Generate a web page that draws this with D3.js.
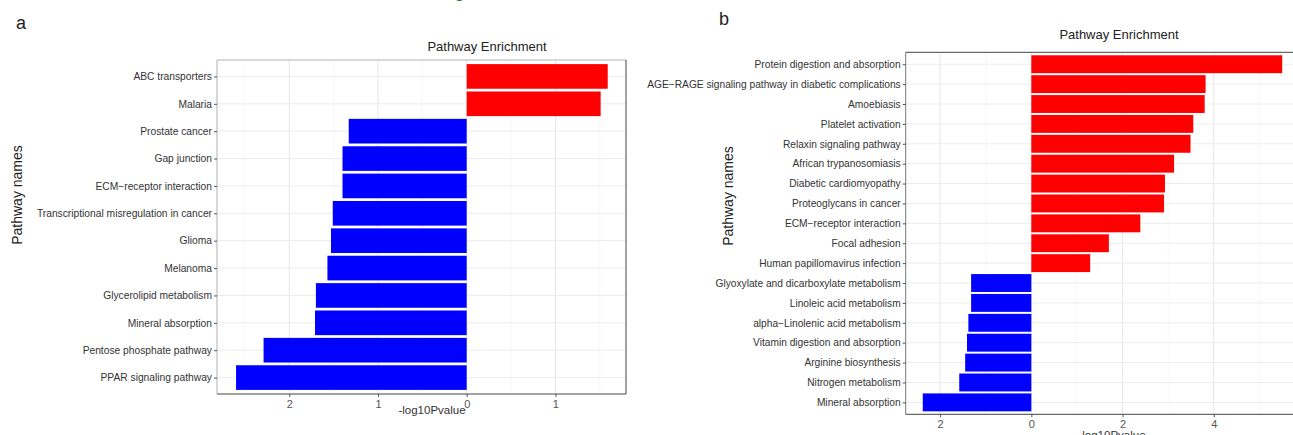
<!DOCTYPE html>
<html><head><meta charset="utf-8">
<script src="https://cdn.jsdelivr.net/npm/d3@7"></script>
<style>body{margin:0;background:#fff}svg{display:block;font-family:"Liberation Sans",Arial,sans-serif}</style>
</head><body><svg id="c" width="1293" height="435"></svg>
<script>
// Panel a data
const catsA = ["ABC transporters","Malaria","Prostate cancer","Gap junction","ECM\u2212receptor interaction","Transcriptional misregulation in cancer","Glioma","Melanoma","Glycerolipid metabolism","Mineral absorption","Pentose phosphate pathway","PPAR signaling pathway"];
const valsA = [1.59,1.51,-1.33,-1.40,-1.40,-1.51,-1.53,-1.57,-1.70,-1.71,-2.29,-2.60];
const ticksA = [-2,-1,0,1];
// Panel b data
const catsB = ["Protein digestion and absorption","AGE\u2212RAGE signaling pathway in diabetic complications","Amoebiasis","Platelet activation","Relaxin signaling pathway","African trypanosomiasis","Diabetic cardiomyopathy","Proteoglycans in cancer","ECM\u2212receptor interaction","Focal adhesion","Human papillomavirus infection","Glyoxylate and dicarboxylate metabolism","Linoleic acid metabolism","alpha\u2212Linolenic acid metabolism","Vitamin digestion and absorption","Arginine biosynthesis","Nitrogen metabolism","Mineral absorption"];
const valsB = [5.50,3.82,3.80,3.55,3.49,3.13,2.93,2.91,2.39,1.70,1.29,-1.32,-1.32,-1.38,-1.41,-1.45,-1.58,-2.38];
const ticksB = [-2,0,2,4];
const minorA = [-2.5,-1.5,-0.5,0.5,1.5];
const minorB = [-1,1,3,5];

const svg = d3.select("#c");

function panel(o){
  const g = svg.append("g");
  const x = d3.scaleLinear().domain(o.xdom).range([o.left,o.right]);
  const y = d3.scalePoint().domain(o.cats).range([o.top,o.bottom]).padding(0.6);
  const step = y.step();
  // grid
  g.selectAll(".mn").data(o.minor).join("line").attr("x1",x).attr("x2",x).attr("y1",o.top).attr("y2",o.bottom).attr("stroke","#f2f2f2").attr("stroke-width",0.6);
  g.selectAll(".mj").data(o.ticks).join("line").attr("x1",x).attr("x2",x).attr("y1",o.top).attr("y2",o.bottom).attr("stroke","#e6e6e6").attr("stroke-width",1);
  g.selectAll(".hg").data(o.cats).join("line").attr("x1",o.left).attr("x2",o.right).attr("y1",y).attr("y2",y).attr("stroke","#ececec").attr("stroke-width",1);
  // bars
  g.selectAll(".bar").data(o.cats).join("rect")
    .attr("x",(d,i)=>x(Math.min(0,o.vals[i])))
    .attr("width",(d,i)=>Math.abs(x(o.vals[i])-x(0)))
    .attr("y",d=>y(d)-step*0.45).attr("height",step*0.9)
    .attr("fill",(d,i)=>o.vals[i]>0?"#ff0000":"#0000ff");
  // border
  g.append("line").attr("x1",o.left).attr("x2",o.right).attr("y1",o.top).attr("y2",o.top).attr("stroke",o.topCol).attr("stroke-width",1);
  g.append("line").attr("x1",o.left).attr("x2",o.left).attr("y1",o.top).attr("y2",o.bottom).attr("stroke",o.leftCol).attr("stroke-width",1);
  if(o.right<1293) g.append("line").attr("x1",o.right).attr("x2",o.right).attr("y1",o.top).attr("y2",o.bottom).attr("stroke","#444").attr("stroke-width",1);
  // x axis
  const xa = d3.axisBottom(x).tickValues(o.ticks).tickFormat(d=>Math.abs(d)).tickSize(3).tickPadding(3);
  const ax = g.append("g").attr("transform",`translate(0,${o.bottom})`).call(xa);
  ax.select(".domain").attr("stroke","#444").attr("d",`M${o.left},0H${Math.min(o.right,1293)}`);
  ax.selectAll(".tick line").attr("stroke","#555");
  ax.selectAll("text").attr("fill","#555").style("font-size","11px").style("font-family","Liberation Sans,Arial,sans-serif");
  // y axis
  const ya = d3.axisLeft(y).tickSize(3).tickPadding(2);
  const ay = g.append("g").attr("transform",`translate(${o.left},0)`).call(ya);
  ay.select(".domain").remove();
  ay.selectAll(".tick line").attr("stroke","#555");
  ay.selectAll("text").attr("fill","#333").style("font-size",o.catFont).style("font-family","Liberation Sans,Arial,sans-serif");
  // titles
  g.append("text").attr("x",o.titleX).attr("y",o.titleY).attr("text-anchor","middle").attr("fill","#222").style("font-size","13px").text("Pathway Enrichment");
  g.append("text").attr("x",o.xtX).attr("y",o.xtY).attr("text-anchor","middle").attr("fill","#333").style("font-size","11.5px").text("-log10Pvalue");
  g.append("text").attr("transform",`translate(${o.ytX},${o.ytY}) rotate(-90)`).attr("text-anchor","middle").attr("fill","#222").style("font-size","14px").text("Pathway names");
  g.append("text").attr("x",o.lblX).attr("y",o.lblY).attr("fill","#222").style("font-size","18px").text(o.lbl);
}

panel({cats:catsA,vals:valsA,ticks:ticksA,minor:minorA,xdom:[-2.815,1.796],left:217,right:626,top:60,bottom:394,
  catFont:"10.25px",topCol:"#b0b0b0",leftCol:"#b0b0b0",titleX:487,titleY:51,xtX:432,xtY:414,ytX:22,ytY:195,lblX:16,lblY:29,lbl:"a"});
panel({cats:catsB,vals:valsB,ticks:ticksB,minor:minorB,xdom:[-2.754,5.89],left:905.7,right:1300,top:52.3,bottom:414.3,
  catFont:"10.2px",topCol:"#444",leftCol:"#777",titleX:1119,titleY:39,xtX:1112,xtY:439,ytX:733,ytY:196,lblX:719,lblY:25,lbl:"b"});
// partial green glyph cut off at the top edge
svg.append("text").attr("x",455).attr("y",-2).attr("fill","#2e7d32").style("font-size","16px").text("g");
</script></body></html>
